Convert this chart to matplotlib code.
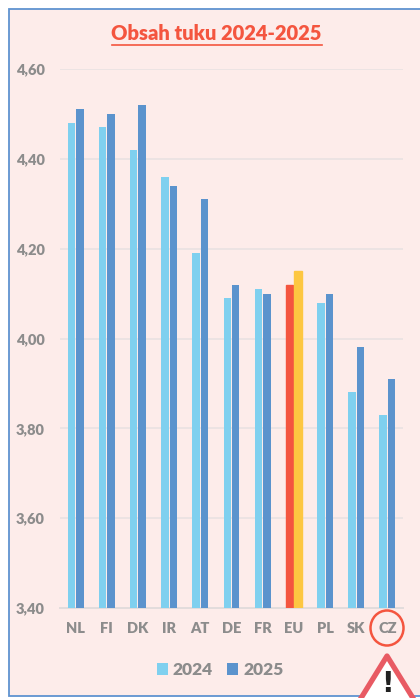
import matplotlib
matplotlib.use('Agg')
import matplotlib.pyplot as plt
import numpy as np
from matplotlib.patches import Ellipse, Polygon, Rectangle

countries = ['NL', 'FI', 'DK', 'IR', 'AT', 'DE', 'FR', 'EU', 'PL', 'SK', 'CZ']
values_2024 = [4.48, 4.47, 4.42, 4.36, 4.19, 4.09, 4.11, 4.12, 4.08, 3.88, 3.83]
values_2025 = [4.51, 4.50, 4.52, 4.34, 4.31, 4.12, 4.10, 4.15, 4.10, 3.98, 3.91]
yticks = [3.4, 3.6, 3.8, 4.0, 4.2, 4.4, 4.6]

W, H = 420, 698
bg = '#fdecea'
blue_light = '#7fd0ef'
blue_dark = '#5b93cd'
red = '#f4553f'
yellow = '#fdc741'
grey = '#8c8c8c'
plt.rcParams['font.family'] = ['Lato', 'DejaVu Sans']
plt.rcParams['font.weight'] = 'heavy'

fig = plt.figure(figsize=(W / 100, H / 100), dpi=100, facecolor='white')

# pixel coords helper, y from top
def fx(x):
    return x / W
def fy(y):
    return 1 - y / H

# frame, has to stay under the axes
fig.add_artist(Rectangle((fx(8.5), fy(696)), 1.0, fy(9) - fy(696), transform=fig.transFigure,
                         facecolor=bg, edgecolor='#5f93d0', linewidth=1.3, zorder=-1))

ax = fig.add_axes([fx(60), fy(608), (403 - 60) / W, (608 - 69) / H])
ax.patch.set_alpha(0)
x = np.arange(len(countries))
w = 0.24
bars1 = ax.bar(x - 0.135, values_2024, w, color=blue_light, label='2024', zorder=3)
bars2 = ax.bar(x + 0.135, values_2025, w, color=blue_dark, label='2025', zorder=3)
bars1[7].set_color(red)
bars2[7].set_color(yellow)

ax.set_xlim(-0.5, 10.5)
ax.set_ylim(3.4, 4.6)
ax.set_yticks(yticks)
ax.set_yticklabels([('%.2f' % v).replace('.', ',') for v in yticks], fontsize=10.5, color=grey)
ax.set_xticks(x)
ax.set_xticklabels(countries, fontsize=10.5, color=grey)
ax.tick_params(length=0)
ax.tick_params(axis='x', pad=10)
ax.tick_params(axis='y', pad=11)
ax.grid(axis='y', color='#e9e2e2', linewidth=1.2, zorder=0)
ax.set_axisbelow(True)
for s in ['top', 'right', 'left']:
    ax.spines[s].set_visible(False)
ax.spines['bottom'].set_color('#e2dcdc')
ax.spines['bottom'].set_linewidth(1.4)

fig.text(fx(216), fy(34), 'Obsah tuku 2024-2025', color=red, fontsize=14.5, fontweight='heavy',
         ha='center', va='center')
fig.add_artist(plt.Line2D([fx(111.5), fx(321.5)], [fy(45), fy(45)], color=red, linewidth=1.2))

leg = ax.legend(handles=[bars1, bars2], loc='center', bbox_to_anchor=((220 - 60) / 343, (608 - 670) / 539),
                ncol=2, frameon=False, fontsize=12.5, handlelength=0.63, handleheight=0.63,
                handletextpad=0.3, columnspacing=0.8, labelcolor=grey)

# circle round CZ
fig.add_artist(Ellipse((fx(387), fy(628)), 33 / W, 35 / H, transform=fig.transFigure,
                       fill=False, edgecolor=red, linewidth=1.8))

# warning sign, runs off the bottom
sign = Polygon([(fx(387), fy(656)), (fx(416), fy(703)), (fx(358), fy(703))], closed=True,
               transform=fig.transFigure, facecolor='white', edgecolor='#e85a63',
               linewidth=3.8, joinstyle='round')
fig.add_artist(sign)
fig.text(fx(387), fy(684), '!', fontsize=20, fontweight='bold', color='#222222', ha='center', va='center',
         family='DejaVu Sans')

fig.savefig('out.png', dpi=100)
